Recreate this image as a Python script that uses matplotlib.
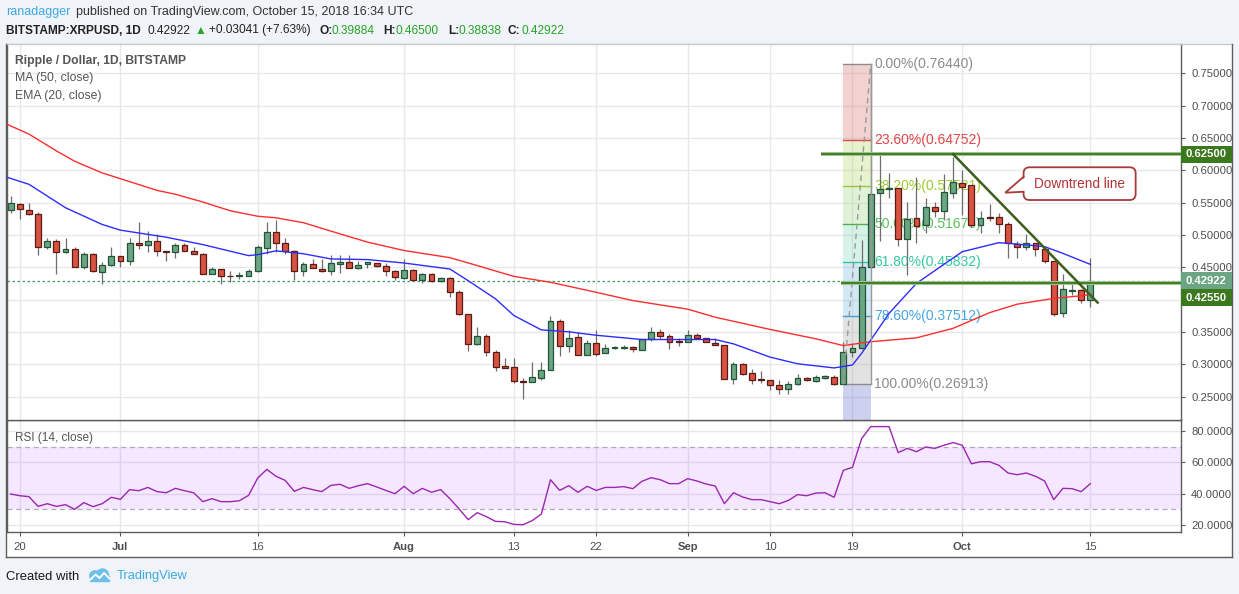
import numpy as np
import pandas as pd
import matplotlib
matplotlib.use("Agg")
import matplotlib.pyplot as plt
import matplotlib.transforms as mtransforms
from matplotlib.patches import Rectangle, FancyBboxPatch, Polygon, Circle

FONT = ['Liberation Sans', 'DejaVu Sans']
plt.rcParams['font.family'] = FONT

# ---------------------------------------------------------------- data
start_date = "2018-06-19"

opens = [0.538, 0.548, 0.538, 0.533, 0.482, 0.491, 0.474, 0.479, 0.451, 0.470,
         0.443, 0.453, 0.468, 0.460, 0.488, 0.484, 0.490, 0.476, 0.474, 0.484,
         0.476, 0.471, 0.440, 0.448, 0.437, 0.436, 0.437, 0.445, 0.480, 0.505,
         0.487, 0.476, 0.4445, 0.455, 0.4476, 0.4445, 0.4553, 0.4584, 0.449, 0.4553,
         0.457, 0.452, 0.4445, 0.4336, 0.446, 0.4305, 0.4398, 0.429, 0.4336, 0.4124,
         0.378, 0.3312, 0.3441, 0.3184, 0.2968, 0.2952, 0.2747, 0.2726, 0.2793, 0.2916,
         0.3672, 0.3287, 0.3425, 0.3148, 0.3333, 0.3179, 0.3256, 0.3256, 0.3271, 0.3225,
         0.3395, 0.3503, 0.3441, 0.3353, 0.3348, 0.3456, 0.341, 0.3333, 0.3302, 0.2778,
         0.3009, 0.287, 0.2767, 0.2762, 0.2685, 0.2618, 0.270, 0.2783, 0.2747, 0.2793,
         0.2808, 0.2700, 0.3186, 0.3258, 0.450, 0.5644, 0.5706, 0.5722, 0.4933, 0.5258,
         0.5155, 0.5438, 0.5376, 0.5655, 0.5799, 0.5768, 0.5155, 0.5273, 0.5273, 0.517,
         0.4861, 0.4809, 0.4871, 0.4778, 0.4593, 0.3789, 0.4134, 0.415, 0.39884]

highs = [0.561, 0.549, 0.549, 0.535, 0.495, 0.494, 0.495, 0.482, 0.474, 0.472,
         0.459, 0.482, 0.468, 0.496, 0.520, 0.506, 0.501, 0.476, 0.488, 0.487,
         0.481, 0.472, 0.450, 0.448, 0.445, 0.443, 0.448, 0.484, 0.520, 0.523,
         0.495, 0.477, 0.459, 0.4636, 0.4636, 0.469, 0.469, 0.469, 0.460, 0.4584,
         0.457, 0.457, 0.446, 0.463, 0.4476, 0.4414, 0.4414, 0.435, 0.435, 0.415,
         0.378, 0.3585, 0.347, 0.3215, 0.310, 0.3102, 0.2783, 0.303, 0.303, 0.374,
         0.370, 0.3533, 0.350, 0.338, 0.3533, 0.332, 0.3287, 0.3302, 0.3287, 0.3395,
         0.358, 0.355, 0.347, 0.341, 0.3533, 0.349, 0.341, 0.341, 0.3302, 0.304,
         0.3025, 0.293, 0.290, 0.2762, 0.276, 0.2747, 0.2855, 0.281, 0.284, 0.283,
         0.284, 0.335, 0.3335, 0.4923, 0.7644, 0.6253, 0.5954, 0.5727, 0.551, 0.5902,
         0.5567, 0.5515, 0.5943, 0.620, 0.6005, 0.5768, 0.5376, 0.548, 0.5335, 0.5206,
         0.4912, 0.5015, 0.4881, 0.4778, 0.4593, 0.4397, 0.4253, 0.416, 0.465]

lows = [0.534, 0.525, 0.531, 0.469, 0.479, 0.440, 0.472, 0.451, 0.447, 0.443,
        0.424, 0.452, 0.450, 0.453, 0.478, 0.474, 0.468, 0.460, 0.465, 0.475,
        0.470, 0.440, 0.440, 0.424, 0.428, 0.432, 0.436, 0.443, 0.470, 0.474,
        0.471, 0.431, 0.436, 0.4486, 0.443, 0.438, 0.441, 0.449, 0.447, 0.449,
        0.4507, 0.437, 0.4305, 0.4315, 0.4305, 0.426, 0.4274, 0.4274, 0.4036, 0.376,
        0.320, 0.3297, 0.3132, 0.2896, 0.294, 0.271, 0.2464, 0.2726, 0.2762, 0.2916,
        0.3132, 0.3194, 0.3148, 0.3148, 0.3132, 0.3179, 0.324, 0.324, 0.319, 0.3225,
        0.3364, 0.3395, 0.324, 0.3287, 0.3348, 0.3395, 0.3348, 0.3302, 0.2778, 0.270,
        0.2834, 0.270, 0.271, 0.260, 0.254, 0.2541, 0.2685, 0.2747, 0.273, 0.278,
        0.2685, 0.26913, 0.3119, 0.3245, 0.449, 0.4912, 0.5567, 0.483, 0.4376, 0.4871,
        0.5036, 0.5284, 0.5232, 0.5567, 0.531, 0.5129, 0.5036, 0.522, 0.5036, 0.4639,
        0.4639, 0.4768, 0.4675, 0.4562, 0.3747, 0.3737, 0.4072, 0.3954, 0.38838]

closes = [0.549, 0.540, 0.533, 0.482, 0.491, 0.473, 0.479, 0.451, 0.470, 0.445,
          0.453, 0.468, 0.460, 0.488, 0.484, 0.490, 0.476, 0.474, 0.484, 0.476,
          0.471, 0.440, 0.448, 0.437, 0.436, 0.438, 0.445, 0.482, 0.505, 0.488,
          0.476, 0.445, 0.455, 0.4486, 0.4445, 0.457, 0.4584, 0.449, 0.4538, 0.4584,
          0.452, 0.4445, 0.435, 0.446, 0.4305, 0.4398, 0.429, 0.4336, 0.4124, 0.378,
          0.3312, 0.3441, 0.3184, 0.2958, 0.2947, 0.2747, 0.2726, 0.2808, 0.2916, 0.3677,
          0.3287, 0.3415, 0.3148, 0.3333, 0.3163, 0.3256, 0.3271, 0.3271, 0.324, 0.3395,
          0.3503, 0.3441, 0.3348, 0.3348, 0.3456, 0.341, 0.3348, 0.3302, 0.2778, 0.3009,
          0.2855, 0.2762, 0.2762, 0.268, 0.2618, 0.270, 0.2793, 0.2762, 0.2808, 0.2814,
          0.2695, 0.3186, 0.3258, 0.450, 0.5629, 0.5706, 0.5727, 0.4933, 0.5242, 0.5139,
          0.5438, 0.5376, 0.567, 0.5825, 0.5737, 0.5155, 0.5258, 0.5268, 0.517, 0.4871,
          0.4809, 0.4871, 0.4778, 0.4603, 0.3773, 0.416, 0.415, 0.3995, 0.42922]

rsi_values = [39.8, 38.7, 38.1, 31.9, 33.6, 31.9, 33.0, 30.0, 34.3, 31.7,
              33.6, 37.7, 36.4, 42.6, 41.9, 44.0, 41.3, 40.6, 43.4, 41.9,
              40.6, 34.9, 36.8, 34.9, 34.9, 35.5, 38.9, 50.0, 55.5, 51.1,
              48.5, 41.5, 44.0, 42.6, 41.3, 45.3, 46.0, 43.4, 45.1, 46.4,
              44.3, 42.1, 40.0, 44.7, 40.0, 43.4, 40.9, 42.6, 36.8, 30.4,
              23.4, 27.9, 25.3, 22.3, 22.1, 20.4, 20.2, 22.8, 27.0, 48.9,
              42.1, 45.1, 40.9, 44.7, 42.1, 44.0, 44.0, 44.5, 43.2, 47.9,
              50.2, 48.9, 46.4, 46.4, 49.6, 48.1, 46.2, 44.9, 33.6, 40.6,
              37.9, 36.2, 36.2, 34.9, 33.6, 35.7, 39.4, 38.7, 40.4, 40.6,
              37.7, 54.9, 56.8, 75.1, 82.8, 82.8, 82.8, 66.2, 68.9, 66.8,
              69.8, 68.9, 70.9, 72.6, 70.9, 59.1, 60.4, 60.4, 58.1, 53.2,
              52.1, 53.2, 51.1, 48.1, 36.2, 43.4, 43.2, 41.3, 46.4]

# moving averages (day index from start_date, value)
ma50_days = [-1, 2, 5, 7, 10, 16, 18, 21, 24, 27, 29, 32, 35, 39, 43, 48, 51, 55,
             59, 64, 68, 74, 77, 83, 88, 91, 94, 99, 103, 107, 110, 114, 117, 118]
ma50_vals = [0.675, 0.656, 0.630, 0.614, 0.596, 0.569, 0.563, 0.551, 0.5375, 0.529,
             0.5266, 0.519, 0.506, 0.489, 0.476, 0.465, 0.4527, 0.436, 0.4269, 0.4114,
             0.3986, 0.3853, 0.3729, 0.354, 0.3395, 0.329, 0.335, 0.341, 0.3557, 0.380,
             0.393, 0.402, 0.406, 0.408]
ema20_days = [-1, 2, 6, 10, 12, 17, 21, 26, 27, 29, 32, 35, 39, 43, 48, 50, 53, 55,
              58, 61, 64, 69, 74, 77, 79, 83, 86, 90, 92, 93, 96, 99, 104, 108, 110,
              113, 115, 118]
ema20_vals = [0.592, 0.5784, 0.5421, 0.5163, 0.5075, 0.4966, 0.4852, 0.4681, 0.4697,
              0.4755, 0.471, 0.463, 0.462, 0.4567, 0.4474, 0.4294, 0.4012, 0.3755,
              0.3533, 0.3503, 0.345, 0.3384, 0.3384, 0.3384, 0.3317, 0.3112, 0.3009,
              0.2945, 0.299, 0.317, 0.3789, 0.4253, 0.4742, 0.4881, 0.486, 0.482,
              0.4716, 0.4546]

price_ticks = [0.25, 0.30, 0.35, 0.40, 0.45, 0.50, 0.55, 0.60, 0.65, 0.70, 0.75]
price_tick_labels = ["0.25000", "0.30000", "0.35000", "", "0.45000", "0.50000", "0.55000",
                     "0.60000", "0.65000", "0.70000", "0.75000"]
rsi_ticks = [20, 40, 60, 80]
rsi_tick_labels = ["20.0000", "40.0000", "60.0000", "80.0000"]
date_tick_dates = ["2018-06-20", "2018-07-01", "2018-07-16", "2018-08-01", "2018-08-13",
                   "2018-08-22", "2018-09-01", "2018-09-10", "2018-09-19", "2018-10-01",
                   "2018-10-15"]
date_tick_labels = ["20", "Jul", "16", "Aug", "13", "22", "Sep", "10", "19", "Oct", "15"]
month_labels = ["Jul", "Aug", "Sep", "Oct"]

fib_low_date, fib_high_date = "2018-09-18", "2018-09-21"
fib_low, fib_high = 0.26913, 0.76440
fib_levels = [0.0, 0.236, 0.382, 0.5, 0.618, 0.786, 1.0, 1.618]

resistance_price, resistance_from = 0.625, 88.6
support_price, support_from = 0.4255, 90.8
trend_days = [103.0, 118.8]
trend_prices = [0.625, 0.3955]
callout_text = "Downtrend line"
callout_box = (110.7, 122.95, 0.5541, 0.6047)   # x0, x1, y0, y1
callout_tip = (108.7, 0.5654)
callout_base = (0.590, 0.5669)

last_close = closes[-1]

# ---------------------------------------------------------------- layout (pixels)
W, H = 1239, 594
L, R, TOP, MID, BOT = 6.7, 1181.0, 44.0, 420.0, 532.0
BOXR, BOXB = 1232.0, 557.0
X0PX, PPD = 10.65, 9.15              # pixel of day 0, pixels per day
PY75, PPP = 73.3, 646.8              # pixel of 0.75, pixels per price unit
RY80, PPR = 431.0, 1.567             # pixel of rsi 80, pixels per rsi unit

def px2day(x): return (x - X0PX) / PPD
def py2price(y): return 0.75 - (y - PY75) / PPP
def py2rsi(y): return 80 - (y - RY80) / PPR

fig = plt.figure(figsize=(W / 100, H / 100), dpi=100)
fig.patch.set_facecolor('#f0f3f7')

def fx(x): return x / W
def fy(y): return 1 - y / H

# white chart box (behind everything)
box = Rectangle((fx(6), fy(BOXB)), fx(BOXR) - fx(6), fy(TOP) - fy(BOXB),
                transform=fig.transFigure, facecolor='white', edgecolor='none', zorder=-10)
fig.patches.append(box)
for (xa, ya, xb, yb, c) in [(6, TOP, BOXR, TOP, '#c9cbcf'), (6, TOP, 6, BOXB, '#5d5d5d'),
                            (6, BOXB, BOXR, BOXB, '#5d5d5d'), (BOXR, TOP, BOXR, BOXB, '#5d5d5d')]:
    fig.add_artist(plt.Line2D([fx(xa), fx(xb)], [fy(ya), fy(yb)], color=c, lw=1.0,
                              transform=fig.transFigure, zorder=-9))

ax = fig.add_axes([fx(L), fy(MID), fx(R) - fx(L), fy(TOP) - fy(MID)])
axr = fig.add_axes([fx(L), fy(BOT), fx(R) - fx(L), fy(MID) - fy(BOT)], sharex=ax)
ax.set_zorder(2)
axr.set_zorder(1)

start = pd.Timestamp(start_date)
days = np.arange(len(closes))
def day_of(d): return (pd.Timestamp(d) - start).days
tick_days = [day_of(d) for d in date_tick_dates]

ax.set_xlim(px2day(L), px2day(R))
ax.set_ylim(py2price(MID), py2price(TOP))
axr.set_ylim(py2rsi(BOT), py2rsi(MID))

GRID = '#e8e8ea'
SPINE = '#5d5d5d'
for a in (ax, axr):
    a.set_facecolor('white')
    a.set_axisbelow(True)
    a.grid(True, color=GRID, lw=1.0)
    for s in a.spines.values():
        s.set_color(SPINE)
        s.set_linewidth(1.0)
ax.spines['top'].set_color('#c9cbcf')

# price axis
ax.yaxis.tick_right()
ax.set_yticks(price_ticks)
ax.set_yticklabels(price_tick_labels)
ax.tick_params(axis='y', right=True, left=False, length=3.2, width=0.8, color=SPINE,
               labelsize=8.1, labelcolor='#4e4e4e', pad=4)

axr.yaxis.tick_right()
axr.set_yticks(rsi_ticks)
axr.set_yticklabels(rsi_tick_labels)
axr.tick_params(axis='y', right=True, left=False, length=3.2, width=0.8, color=SPINE,
                labelsize=8.1, labelcolor='#4e4e4e', pad=4)
axr.set_xticks(tick_days)
axr.set_xticklabels(date_tick_labels)
axr.tick_params(axis='x', length=3, width=0.8, color=SPINE, labelsize=8.1,
                labelcolor='#4e4e4e', pad=4.5)
ax.tick_params(axis='x', length=0, labelbottom=False)
for lab in axr.get_xticklabels():
    if lab.get_text() in month_labels:
        lab.set_fontweight('bold')

# ---------------------------------------------------------------- fibonacci
fx0, fx1 = day_of(fib_low_date), day_of(fib_high_date)
rng = fib_high - fib_low
fib_prices = [fib_high - lv * rng for lv in fib_levels]
band_colors = ['#d76c66', '#b2d462', '#98d77d', '#7dd7b2', '#6cb6de', '#a2a2a2', '#5f66cd']
line_colors = ['#8c8c8c', '#e04848', '#9cc43c', '#4cb050', '#2ec79d', '#3d9fdc', '#8c8c8c']
label_colors = ['#8c8c8c', '#e04848', '#9ccd32', '#5cbf5c', '#33c9a0', '#45a5e0', '#8c8c8c']
for i in range(len(fib_levels) - 1):
    ax.fill_between([fx0, fx1], fib_prices[i + 1], fib_prices[i], color=band_colors[i],
                    alpha=0.3, lw=0, zorder=1)
lab_tr = mtransforms.offset_copy(ax.transData, fig=fig, x=3.5, y=0, units='dots')
for i in range(len(fib_levels) - 1):
    ax.plot([fx0, fx1], [fib_prices[i]] * 2, color=line_colors[i], lw=1.0, zorder=1.5)
    ax.text(fx1, fib_prices[i], f"{fib_levels[i]*100:.2f}%({fib_prices[i]:.5f})",
            transform=lab_tr, ha='left', va='center', fontsize=10.0,
            color=label_colors[i], zorder=1.6)
ax.plot([fx1, fx1], [fib_low, fib_high], color='#999999', lw=1.0, zorder=3.1)
ax.plot([fx0, fx1], [fib_low, fib_high], color='#9a9a9a', lw=1.0,
        ls=(0, (4, 3)), zorder=3.2)

# close price dotted line
ax.axhline(last_close, color='#3f9a66', lw=0.9, ls=(0, (2, 2)), zorder=1.7)

# ---------------------------------------------------------------- candles
o = np.array(opens); h = np.array(highs); l = np.array(lows); c = np.array(closes)
up = c >= o
ax.vlines(days, l, h, color='#6e6e70', lw=0.9, zorder=2)
body_lo = np.minimum(o, c)
body_h = np.maximum(np.abs(c - o), 0.0008)
ax.bar(days[up], body_h[up], bottom=body_lo[up], width=0.64, color='#6ba583',
       edgecolor='#225437', linewidth=0.9, zorder=2.1)
ax.bar(days[~up], body_h[~up], bottom=body_lo[~up], width=0.64, color='#d75442',
       edgecolor='#5b1a13', linewidth=0.9, zorder=2.1)

# moving averages
ax.plot(ma50_days, ma50_vals, color='#ff2d2d', lw=1.0, zorder=3)
ax.plot(ema20_days, ema20_vals, color='#2d2dff', lw=1.0, zorder=3)

# ---------------------------------------------------------------- drawings
xr = ax.get_xlim()[1]
for price, x0 in [(resistance_price, resistance_from), (support_price, support_from)]:
    ax.plot([x0, xr], [price, price], color='#9cc58f', lw=2.9, zorder=4, solid_capstyle='butt')
    ax.plot([x0, xr], [price, price], color='#3e7722', lw=1.3, zorder=4.1, solid_capstyle='butt')
ax.plot(trend_days, trend_prices, color='#3d5e1c', lw=1.8, zorder=4.5)

# callout
bx0, bx1, by0, by1 = callout_box
asp = (PPD / PPP)
rad = 6 / PPD
cb = FancyBboxPatch((bx0, by0), bx1 - bx0, by1 - by0,
                    boxstyle=f"round,pad=0,rounding_size={rad}", mutation_aspect=asp,
                    facecolor='white', edgecolor='#a83a3a', lw=1.3, zorder=5)
ax.add_patch(cb)
tip = callout_tip
ax.add_patch(Polygon([(bx0 + 0.25, callout_base[0]), tip, (bx0 + 0.25, callout_base[1])],
                     closed=True, facecolor='white', edgecolor='none', zorder=5.1))
ax.plot([bx0, tip[0], bx0], [callout_base[0], tip[1], callout_base[1]],
        color='#a83a3a', lw=1.3, zorder=5.2, solid_joinstyle='miter')
ax.text((bx0 + bx1) / 2, (by0 + by1) / 2, callout_text, ha='center', va='center',
        fontsize=9.8, color='#b03434', zorder=5.3)

# price labels on the axis
blend = mtransforms.blended_transform_factory(ax.transAxes, ax.transData)
lab_w = (BOXR - R) / (R - L)
lab_h = 17 / PPP
def axis_label(price, shown, bg, shift_px=0):
    yc = price - shift_px / PPP
    ax.add_patch(Rectangle((1.0, yc - lab_h / 2), lab_w, lab_h, transform=blend,
                           facecolor=bg, edgecolor='none', clip_on=False, zorder=6))
    ax.text(1.0 + 5 / (R - L), yc, shown, transform=blend, ha='left', va='center',
            fontsize=8.1, fontweight='bold', color='white', clip_on=False, zorder=7)
axis_label(resistance_price, f"{resistance_price:.5f}", '#3c781e')
axis_label(last_close, f"{last_close:.5f}", '#6ba583')
axis_label(last_close, f"{support_price:.5f}", '#3c781e', shift_px=17)

# ---------------------------------------------------------------- RSI
axr.axhspan(30, 70, facecolor=(0.6, 0.08, 1.0, 0.1), edgecolor='none', zorder=1)
for lvl in (70, 30):
    axr.axhline(lvl, color='#b4a8ba', lw=0.9, ls=(0, (4, 3)), zorder=1.5)
axr.plot(days, rsi_values, color='#9c27b0', lw=1.0, zorder=3)

# ---------------------------------------------------------------- texts
TXT = '#232323'
GREEN = '#26a626'
fig.text(fx(6), fy(12), "ranadagger", color='#3ea9e4', fontsize=9.0, va='center', ha='left')
fig.text(fx(76.5), fy(12), "published on TradingView.com, October 15, 2018 16:34 UTC",
         color='#333333', fontsize=9.0, va='center', ha='left')
hdr = [(6, "BITSTAMP:XRPUSD, 1D", TXT, 'bold'), (147, "0.42922", TXT, 'normal'),
       (195, "\u25B2", GREEN, 'normal'), (208.6, "+0.03041 (+7.63%)", TXT, 'normal'),
       (319, "O:", TXT, 'bold'), (332, "0.39884", GREEN, 'normal'),
       (383, "H:", TXT, 'bold'), (396, "0.46500", GREEN, 'normal'),
       (448, "L:", TXT, 'bold'), (458.5, "0.38838", GREEN, 'normal'),
       (508, "C:", TXT, 'bold'), (521, "0.42922", GREEN, 'normal')]
for xp, s, col, wt in hdr:
    fig.text(fx(xp), fy(30.5), s, color=col, fontweight=wt, fontsize=8.6, va='center',
             ha='left', family=FONT)

fig.text(fx(15), fy(61), "Ripple / Dollar, 1D, BITSTAMP", color='#555555', fontsize=8.7,
         fontweight='bold', va='center', ha='left', zorder=10)
fig.text(fx(15), fy(78.5), "MA (50, close)", color='#555555', fontsize=8.8, va='center',
         ha='left', zorder=10)
fig.text(fx(15), fy(95.5), "EMA (20, close)", color='#555555', fontsize=8.8, va='center',
         ha='left', zorder=10)
fig.text(fx(15), fy(437.5), "RSI (14, close)", color='#555555', fontsize=8.5, va='center',
         ha='left', zorder=10)

fig.text(fx(6), fy(576.5), "Created with", color='#1a1a1a', fontsize=9.4, va='center', ha='left')
fig.text(fx(117), fy(576.5), "TradingView", color='#3ea9e4', fontsize=9.3, va='center', ha='left')

# small TradingView cloud logo
lax = fig.add_axes([fx(87), fy(584), fx(112) - fx(87), fy(568) - fy(584)])
lax.set_xlim(0, 25); lax.set_ylim(0, 16); lax.axis('off')
for (cx, cy, rr) in [(8, 8, 5.2), (15.5, 9, 6)]:
    lax.add_patch(Circle((cx, cy), rr, color='#6cc0ea', zorder=1))
lax.add_patch(Rectangle((3, 2.8), 19, 5.5, color='#6cc0ea', zorder=1))
lax.plot([3.5, 8.5, 12.5, 17.0, 22.5], [4.5, 9.5, 6.0, 11.0, 5.5], color='white', lw=1.4, zorder=2)

fig.savefig("out.png", dpi=100, facecolor=fig.get_facecolor())
